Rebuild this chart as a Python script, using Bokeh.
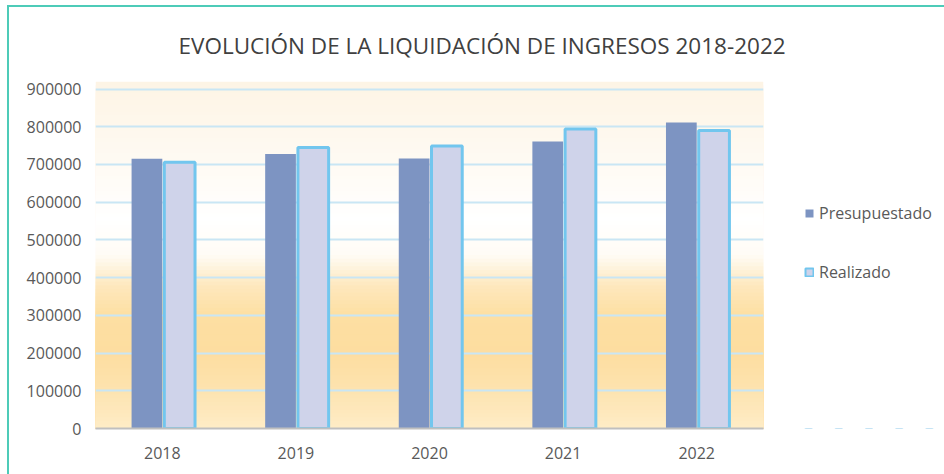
from bokeh.plotting import figure
from bokeh.layouts import row
from bokeh.models import (Legend, LegendItem, BoxAnnotation, NumeralTickFormatter,
                          FixedTicker, Title, ColumnDataSource, FactorRange, Range1d)
from bokeh.transform import dodge
from bokeh.embed import file_html
from bokeh.resources import INLINE

years = ["2018", "2019", "2020", "2021", "2022"]
presupuestado = [715000, 728000, 716000, 761000, 811000]
realizado = [706000, 745000, 749000, 794000, 790000]
y_ticks = [0, 100000, 200000, 300000, 400000, 500000, 600000, 700000, 800000, 900000]
series_names = ["Presupuestado", "Realizado"]

DARK = "#7d94c2"
LIGHT = "#cfd3ea"
LIGHT_LINE = "#72c6ee"
TEAL = "#4dcbb8"

src = ColumnDataSource(dict(year=years, pres=presupuestado, real=realizado))

p = figure(x_range=years, y_range=(0, 920000), width=784, height=467,
           output_backend="svg", toolbar_location=None,
           min_border_left=86, min_border_right=30, min_border_top=72,
           min_border_bottom=46, outline_line_color=None,
           background_fill_color="white", border_fill_color="white")

# background gradient of the plot area (overlapping boxes, drawn top-down)
keys = [(920000, (253, 244, 229)), (850000, (254, 246, 233)), (750000, (254, 249, 240)),
        (650000, (255, 252, 247)), (550000, (255, 255, 255)), (460000, (255, 252, 245)),
        (420000, (254, 242, 218)), (380000, (254, 232, 190)), (300000, (253, 223, 162)),
        (200000, (253, 221, 160)), (120000, (253, 226, 172)), (0, (254, 236, 198))]
keys = keys[::-1]
step = 10000
v = 920000
while v > 0:
    mid = v - step / 2
    for (a, ca), (b, cb) in zip(keys[:-1], keys[1:]):
        if a <= mid <= b:
            t = (mid - a) / (b - a)
            c = tuple(int(round(ca[i] + (cb[i] - ca[i]) * t)) for i in range(3))
            break
    col = "#%02x%02x%02x" % c
    p.add_layout(BoxAnnotation(bottom=0, top=v, fill_color=col, fill_alpha=1.0,
                               line_color=None, level="image"))
    v -= step

p.vbar(x=dodge("year", -0.115, range=p.x_range), top="pres", width=0.23, source=src,
       fill_color=DARK, line_color=None)
p.vbar(x=dodge("year", 0.13, range=p.x_range), top="real", width=0.23, source=src,
       fill_color=LIGHT, line_color=LIGHT_LINE, line_width=3)

p.xgrid.grid_line_color = None
p.ygrid.grid_line_color = "#c9e6f4"
p.ygrid.grid_line_width = 2
p.yaxis.ticker = FixedTicker(ticks=y_ticks)
p.yaxis.formatter = NumeralTickFormatter(format="0")
p.yaxis.axis_line_color = None
p.yaxis.major_tick_line_color = None
p.yaxis.minor_tick_line_color = None
p.yaxis.major_tick_out = 0
p.yaxis.major_label_standoff = 14
p.xaxis.axis_line_color = "#bfbfbf"
p.xaxis.axis_line_width = 2
p.xaxis.major_tick_line_color = None
p.xaxis.major_tick_out = 0
p.xaxis.major_label_standoff = 18
for ax in (p.xaxis[0], p.yaxis[0]):
    ax.major_label_text_font = "Open Sans"
    ax.major_label_text_font_size = "16px"
    ax.major_label_text_color = "#595959"

title = Title(text="EVOLUCIÓN DE LA LIQUIDACIÓN DE INGRESOS 2018-2022", align="left",
              offset=83, text_font="Open Sans", text_font_size="22.5px",
              text_font_style="normal", text_color="#404040", standoff=41)
p.add_layout(title, "above")

# legend panel: proxy bars share the data, lie outside the range and are covered
q = figure(width=151, height=467, output_backend="svg", toolbar_location=None,
           x_range=FactorRange(*years), y_range=Range1d(2000000, 3000000),
           x_axis_type=None, y_axis_type=None, min_border=0,
           outline_line_color=None, background_fill_color="white",
           border_fill_color="white")
q.xgrid.grid_line_color = None
q.ygrid.grid_line_color = None
g1 = q.vbar(x="year", top="pres", width=0.2, source=src, fill_color=DARK, line_color=None)
g2 = q.vbar(x="year", top="real", width=0.2, source=src, fill_color=LIGHT,
            line_color=LIGHT_LINE, line_width=2)
q.add_layout(BoxAnnotation(fill_color="white", fill_alpha=1.0, line_color="white",
                           line_width=6, level="annotation"))

legend = Legend(items=[LegendItem(label=series_names[0], renderers=[g1]),
                       LegendItem(label=series_names[1], renderers=[g2])],
                location=(11, 145), orientation="vertical",
                glyph_width=10, glyph_height=10, label_height=20, spacing=37,
                label_standoff=5, padding=10, margin=0,
                label_text_font="Open Sans", label_text_font_size="16px",
                label_text_color="#595959", border_line_color=None,
                background_fill_alpha=0)
q.add_layout(legend, "center")

layout = row(p, q, spacing=0)
layout.styles = {"border-top": "2px solid " + TEAL, "border-left": "2px solid " + TEAL,
                 "margin-left": "7px", "margin-top": "5px"}

open("out.html", "w").write(file_html(layout, INLINE))
